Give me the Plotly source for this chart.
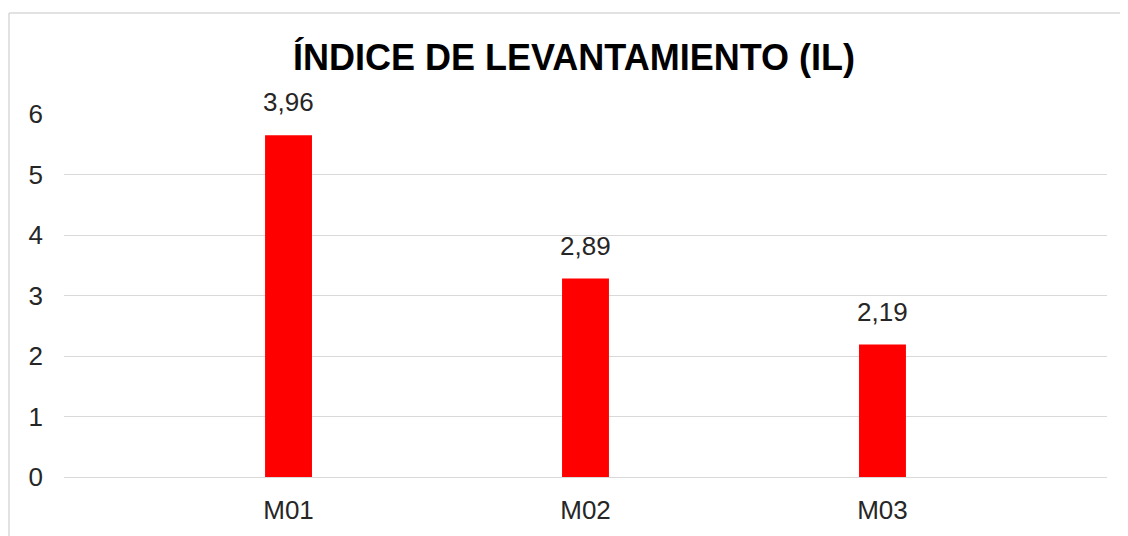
import plotly.graph_objects as go

categories = ["M01", "M02", "M03"]
bar_heights = [5.65, 3.28, 2.19]
bar_labels = ["3,96", "2,89", "2,19"]
y_ticks = [0, 1, 2, 3, 4, 5, 6]

OFF = 8  # page body margin
PW, PH = 1128, 536
W, H = PW - OFF, PH - OFF
# plot area in page pixels: x 64..1107, y 114..477
ml, mt = 64 - OFF, 114 - OFF
mr, mb = W - (1107 - OFF), H - (477 - OFF)
pw, ph = W - ml - mr, H - mt - mb

font_fam = "Liberation Sans, Arial"
txt_col = "#262626"

fig = go.Figure(go.Bar(
    x=list(range(len(categories))), y=bar_heights,
    marker=dict(color="#ff0000", line=dict(width=0)),
    width=0.158, hoverinfo="skip",
))

annotations = [
    dict(x=i, y=v, text=t, showarrow=False, xanchor="center", yanchor="bottom", yshift=16,
         font=dict(family=font_fam, size=26, color=txt_col))
    for i, (v, t) in enumerate(zip(bar_heights, bar_labels))
]

def px_x(p):
    return (p - OFF - ml) / pw

def px_y(p):
    return (H - mb - (p - OFF)) / ph

border = dict(color="#d9d9d9", width=1.5)
fig.update_layout(
    width=W, height=H,
    margin=dict(l=ml, r=mr, t=mt, b=mb),
    paper_bgcolor="white", plot_bgcolor="white",
    showlegend=False,
    annotations=annotations,
    title=dict(text="<b>ÍNDICE DE LEVANTAMIENTO (IL)</b>", x=(574 - OFF) / W, xanchor="center",
               y=1 - (57 - OFF) / H, yanchor="middle",
               font=dict(family=font_fam, size=36, color="black")),
    xaxis=dict(range=[-0.756, 2.756], tickvals=list(range(len(categories))), ticktext=categories,
               showgrid=False, zeroline=False, showline=False, ticks="",
               tickfont=dict(family=font_fam, size=26, color=txt_col),
               ticklabelstandoff=15),
    yaxis=dict(range=[0, 6], tickvals=y_ticks, showgrid=True, gridcolor="#d9d9d9", gridwidth=1,
               zeroline=True, zerolinecolor="#d9d9d9", zerolinewidth=1, showline=False, ticks="",
               tickfont=dict(family=font_fam, size=26, color=txt_col),
               ticklabelstandoff=20),
    shapes=[
        dict(type="line", xref="paper", yref="paper",
             x0=px_x(9), x1=px_x(PW + 4), y0=px_y(13), y1=px_y(13), line=border, layer="below"),
        dict(type="line", xref="paper", yref="paper",
             x0=px_x(9), x1=px_x(9), y0=px_y(13), y1=px_y(PH + 4), line=border, layer="below"),
    ],
)

fig.write_html("out.html")
